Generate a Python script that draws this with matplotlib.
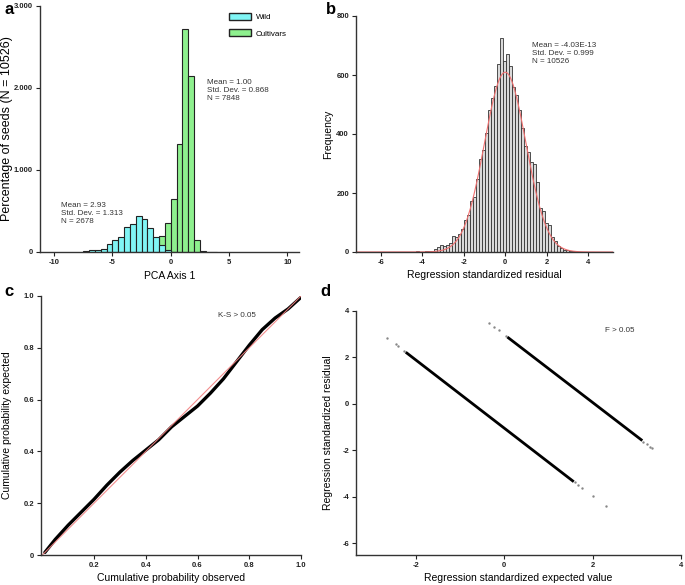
import numpy as np
import matplotlib
matplotlib.use("Agg")
import matplotlib.pyplot as plt
from matplotlib.ticker import FuncFormatter
from matplotlib.patches import Patch

plt.rcParams['font.family'] = ['Liberation Sans', 'DejaVu Sans']
plt.rcParams['axes.unicode_minus'] = False

# ---- panel a: PCA axis 1 histograms (bin width 0.5)
wild_edges = np.arange(-7.5, 0.51, 0.5)
wild_counts = [8, 20, 20, 41, 97, 150, 187, 300, 340, 438, 401, 296, 185, 90, 30, 6]
cult_edges = np.arange(-1.5, 4.01, 0.5)
cult_counts = [10, 199, 349, 645, 1318, 2717, 2145, 150, 12, 5, 5]

# ---- panel b: residual histogram
resid_start = -4.32
resid_width = 0.145
resid_counts = [2, 0, 1, 2, 3, 5,
                10, 17, 23, 19, 25, 30, 53, 51, 61, 78, 110, 126, 172, 188,
                247, 315, 347, 405, 482, 522, 563, 637,
                725,
                648, 672, 631, 558, 532, 482, 422, 358, 338, 304, 298, 236,
                149, 138, 100, 93, 51, 36, 19, 14, 8, 6, 3, 2, 1]
resid_mean, resid_sd, resid_n = 0.0, 0.999, 10526

# ---- panel c: P-P plot
pp_observed = [0.01, 0.05, 0.10, 0.15, 0.20, 0.25, 0.30, 0.35, 0.40, 0.45, 0.50,
               0.55, 0.60, 0.65, 0.70, 0.75, 0.80, 0.85, 0.90, 0.95, 1.00]
pp_expected = [0.01, 0.06, 0.115, 0.165, 0.215, 0.27, 0.32, 0.365, 0.405, 0.445, 0.495,
               0.535, 0.575, 0.625, 0.68, 0.745, 0.81, 0.87, 0.915, 0.95, 0.995]

# ---- panel d: residual vs expected value
low_dense_x = [-2.2, 1.55]
low_dense_y = [2.19, -3.31]
low_sparse_x = [-2.65, -2.45, -2.40, -2.27, 1.60, 1.68, 1.75, 2.00, 2.30]
low_sparse_y = [2.85, 2.56, 2.49, 2.29, -3.38, -3.50, -3.60, -3.97, -4.41]
up_dense_x = [0.10, 3.10]
up_dense_y = [2.84, -1.54]
up_sparse_x = [-0.35, -0.22, -0.12, 0.05, 3.15, 3.22, 3.30, 3.35]
up_sparse_y = [3.50, 3.31, 3.17, 2.92, -1.62, -1.72, -1.84, -1.90]

W, H = 685, 585
fig = plt.figure(figsize=(W / 100, H / 100), dpi=100)


def add_ax(l, t, r, b):
    return fig.add_axes([l / W, 1 - b / H, (r - l) / W, (b - t) / H])


def style(ax):
    for s in ['top', 'right']:
        ax.spines[s].set_visible(False)
    for s in ['left', 'bottom']:
        ax.spines[s].set_linewidth(1.0)
        ax.spines[s].set_color('#333333')
    ax.tick_params(direction='out', length=3, width=0.8, pad=2, labelsize=5.5, colors='#222222')
    for lab in ax.get_xticklabels() + ax.get_yticklabels():
        lab.set_fontweight('bold')


lab_fs = 7.5
txt_fs = 5.8

# panel a
ax = add_ax(40, 6, 299, 252)
ax.bar(cult_edges[:-1], cult_counts, width=0.5, align='edge', color='#8ef08e',
       edgecolor='#222222', linewidth=0.8)
ax.bar(wild_edges[:-1], wild_counts, width=0.5, align='edge', color='#80f5f5',
       edgecolor='#222222', linewidth=0.8)
ax.set_xlim(-11.2, 11)
ax.set_ylim(0, 3000)
ax.set_xticks([-10, -5, 0, 5, 10])
ax.set_yticks([0, 1000, 2000, 3000])
ax.yaxis.set_major_formatter(FuncFormatter(lambda v, _: "0" if v == 0 else f"{int(v):,}".replace(",", ".")))
ax.set_xlabel("PCA Axis 1", fontsize=lab_fs, va='top')
ax.set_ylabel("Percentage of seeds (N = 10526)", fontsize=9)
ax.xaxis.set_label_coords(0.5, -0.077)
ax.yaxis.set_label_coords(-0.104, 0.5)
style(ax)
ax.text(0.08, 0.205, "Mean = 2.93\nStd. Dev. = 1.313\nN = 2678", transform=ax.transAxes,
        fontsize=txt_fs, va='top', ha='left', linespacing=1.2, color='#333333')
ax.text(0.645, 0.705, "Mean = 1.00\nStd. Dev. = 0.868\nN = 7848", transform=ax.transAxes,
        fontsize=txt_fs, va='top', ha='left', linespacing=1.2, color='#333333')
ax.legend(handles=[Patch(facecolor='#80f5f5', edgecolor='#222222', label='Wild'),
                   Patch(facecolor='#8ef08e', edgecolor='#222222', label='Cultivars')],
          loc='upper left', bbox_to_anchor=(0.7, 1.0), frameon=False, fontsize=txt_fs,
          handlelength=2.8, handleheight=0.9, labelspacing=1.0, handletextpad=0.6)

# panel b
ax = add_ax(356, 16, 613, 252)
edges = resid_start + resid_width * np.arange(len(resid_counts))
ax.bar(edges, resid_counts, width=resid_width, align='edge', color='#dadada',
       edgecolor='#333333', linewidth=0.6)
xs = np.linspace(-7.2, 5.2, 400)
curve = resid_n * resid_width / (resid_sd * np.sqrt(2 * np.pi)) * np.exp(-0.5 * ((xs - resid_mean) / resid_sd) ** 2)
ax.plot(xs, curve, color='#f07070', linewidth=0.8)
ax.set_xlim(-7.2, 5.2)
ax.set_ylim(0, 800)
ax.set_xticks([-6, -4, -2, 0, 2, 4])
ax.set_yticks([0, 200, 400, 600, 800])
ax.set_xlabel("Regression standardized residual", fontsize=lab_fs)
ax.set_ylabel("Frequency", fontsize=lab_fs)
ax.xaxis.set_label_coords(0.5, -0.076)
ax.yaxis.set_label_coords(-0.088, 0.5)
style(ax)
ax.text(0.685, 0.89, "Mean = -4.03E-13\nStd. Dev. = 0.999\nN = 10526", transform=ax.transAxes,
        fontsize=txt_fs, va='top', ha='left', linespacing=1.2, color='#333333')

# panel c
ax = add_ax(41, 296, 301, 555)
ax.plot(pp_observed, pp_expected, color='black', linewidth=2.4, solid_capstyle='round')
ax.plot([0, 1], [0, 1], color='#f08080', linewidth=0.8, alpha=0.9)
ax.set_xlim(-0.005, 1.0)
ax.set_ylim(0, 1.0)
ax.set_xticks([0.2, 0.4, 0.6, 0.8, 1.0])
ax.set_yticks([0, 0.2, 0.4, 0.6, 0.8, 1.0])
fmt01 = FuncFormatter(lambda v, _: "0" if v == 0 else f"{v:.1f}")
ax.xaxis.set_major_formatter(fmt01)
ax.yaxis.set_major_formatter(fmt01)
ax.set_xlabel("Cumulative probability observed", fontsize=lab_fs)
ax.set_ylabel("Cumulative probability expected", fontsize=lab_fs)
ax.xaxis.set_label_coords(0.5, -0.07)
ax.yaxis.set_label_coords(-0.11, 0.5)
style(ax)
ax.text(0.68, 0.925, "K-S > 0.05", transform=ax.transAxes, fontsize=txt_fs,
        ha='left', va='center', color='#333333')

# panel d
ax = add_ax(356, 311, 681, 555)
ax.plot(low_dense_x, low_dense_y, color='black', linewidth=2.0)
ax.plot(up_dense_x, up_dense_y, color='black', linewidth=2.0)
ax.scatter(low_sparse_x, low_sparse_y, s=3, color='#888888', linewidths=0)
ax.scatter(up_sparse_x, up_sparse_y, s=3, color='#888888', linewidths=0)
ax.set_xlim(-3.35, 4)
ax.set_ylim(-6.5, 4)
ax.set_xticks([-2, 0, 2, 4])
ax.set_yticks([-6, -4, -2, 0, 2, 4])
ax.set_xlabel("Regression standardized expected value", fontsize=lab_fs)
ax.set_ylabel("Regression standardized residual", fontsize=lab_fs)
ax.xaxis.set_label_coords(0.5, -0.074)
ax.yaxis.set_label_coords(-0.07, 0.5)
style(ax)
ax.text(0.765, 0.92, "F > 0.05", transform=ax.transAxes, fontsize=txt_fs,
        ha='left', va='center', color='#333333')

# panel letters
for letter, x, y in [("a", 9, 10), ("b", 331, 10), ("c", 9, 292), ("d", 325, 292)]:
    fig.text(x / W, 1 - y / H, letter, fontsize=12, fontweight='bold', ha='center', va='center')

fig.savefig("out.png", dpi=100)
